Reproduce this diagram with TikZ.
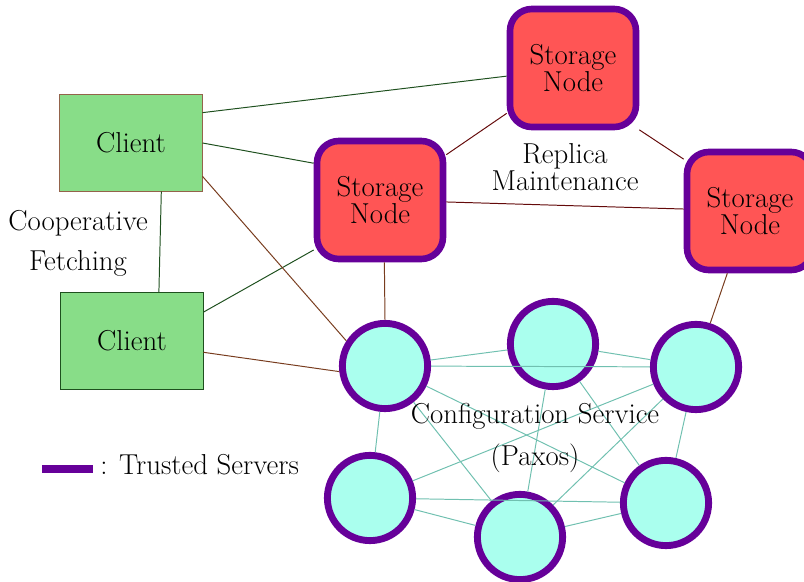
\documentclass[tikz,border=0pt]{standalone}
\usepackage{tikz}
\definecolor{client_green}{RGB}{136, 221, 136}
\definecolor{storage_red}{RGB}{255, 85, 85}
\definecolor{trusted_purple}{RGB}{102, 0, 153}
\definecolor{paxos_cyan}{RGB}{170, 255, 238}
\definecolor{paxos_teal}{RGB}{112, 192, 176}
\definecolor{fetch_green}{RGB}{30, 80, 30}
\definecolor{config_brown}{RGB}{120, 60, 30}
\definecolor{replica_red}{RGB}{100, 10, 10}
\tikzset{
    client_node/.style={
        draw,
        fill=client_green,
        line width=0.7pt,
        minimum width=3.55cm,
        minimum height=2.4cm,
        align=center,
        font=\fontsize{20.5}{19.5}\selectfont
    },
    storage_node/.style={
        draw=trusted_purple,
        fill=storage_red,
        line width=4.7pt,
        rounded corners=0.55cm,
        minimum width=3.15cm,
        minimum height=2.95cm,
        align=center,
        font=\fontsize{20.5}{19.5}\selectfont
    },
    paxos_node/.style={
        circle,
        draw=trusted_purple,
        fill=paxos_cyan,
        line width=4.9pt,
        minimum size=2.13cm,
        inner sep=0pt
    },
    label_text/.style={
        align=center,
        font=\fontsize{20.5}{19.5}\selectfont
    },
    fetch_line/.style={line width=0.7pt, draw=fetch_green},
    config_line/.style={line width=0.7pt, draw=config_brown},
    replica_line/.style={line width=0.7pt, draw=replica_red},
    paxos_line/.style={line width=0.7pt, draw=paxos_teal}
}
\begin{document}
\begin{tikzpicture}[x=0.025cm, y=-0.025cm]
\useasboundingbox (0,0) rectangle (804,582);

% Clients
\node[client_node, draw=config_brown!80!white] (client1) at (131,143) {Client};
\node[client_node, draw=fetch_green] (client2) at (132,341) {Client};

% Storage nodes
\node[storage_node] (storeTop) at (573,68) {Storage\\Node};
\node[storage_node] (storeMid) at (380,200) {Storage\\Node};
\node[storage_node] (storeRight) at (750,211) {Storage\\Node};

% Configuration service replicas
\foreach \i/\x/\y in {1/385/366, 2/553/344, 3/696/367, 4/370/498, 5/520/537, 6/666/503} {
    \node[paxos_node] (cfg\i) at (\x,\y) {};
}

% Paxos links
\foreach \a/\b in {1/2, 1/3, 1/4, 1/5, 1/6, 2/3, 2/5, 2/6, 3/4, 3/5, 3/6, 4/5, 4/6, 5/6} {
    \draw[paxos_line] (cfg\a) -- (cfg\b);
}

% Client links
\draw[fetch_line] (client1.23.6) -- (storeTop.187);
\draw[fetch_line] (client1.east) -- (storeMid.151);
\draw[fetch_line] (client1.-58.9) -- (client2.61);
\draw[fetch_line] (client2.22) -- (storeMid.217);
\draw[config_line] (client1.-25.9) -- (cfg1.147.4);
\draw[config_line] (client2.-9.5) -- (cfg1.187.6);

% Storage to configuration service
\draw[config_line] (storeMid.-86) -- (cfg1.north);
\draw[config_line] (storeRight.250.5) -- (cfg3.72);

% Replica maintenance
\draw[replica_line] (storeTop) -- (storeMid);
\draw[replica_line] (storeTop.-43) -- (storeRight.142.3);
\draw[replica_line] (storeMid) -- (storeRight);

% Labels
\node[label_text] (coop) at (78,243) {Cooperative\\[9pt]Fetching};
\node[label_text] (replica) at (565,167) {Replica\\Maintenance};
\node[label_text] (config) at (535,438) {Configuration Service\\[9pt](Paxos)};

% Legend
\coordinate (legendA) at (42,469);
\coordinate (legendB) at (93,469);
\draw[trusted_purple, line width=5pt] (legendA) -- (legendB);
\node[label_text, anchor=base west, inner sep=0pt] (legend) at (100,475) {: Trusted Servers};

\end{tikzpicture}
\end{document}
